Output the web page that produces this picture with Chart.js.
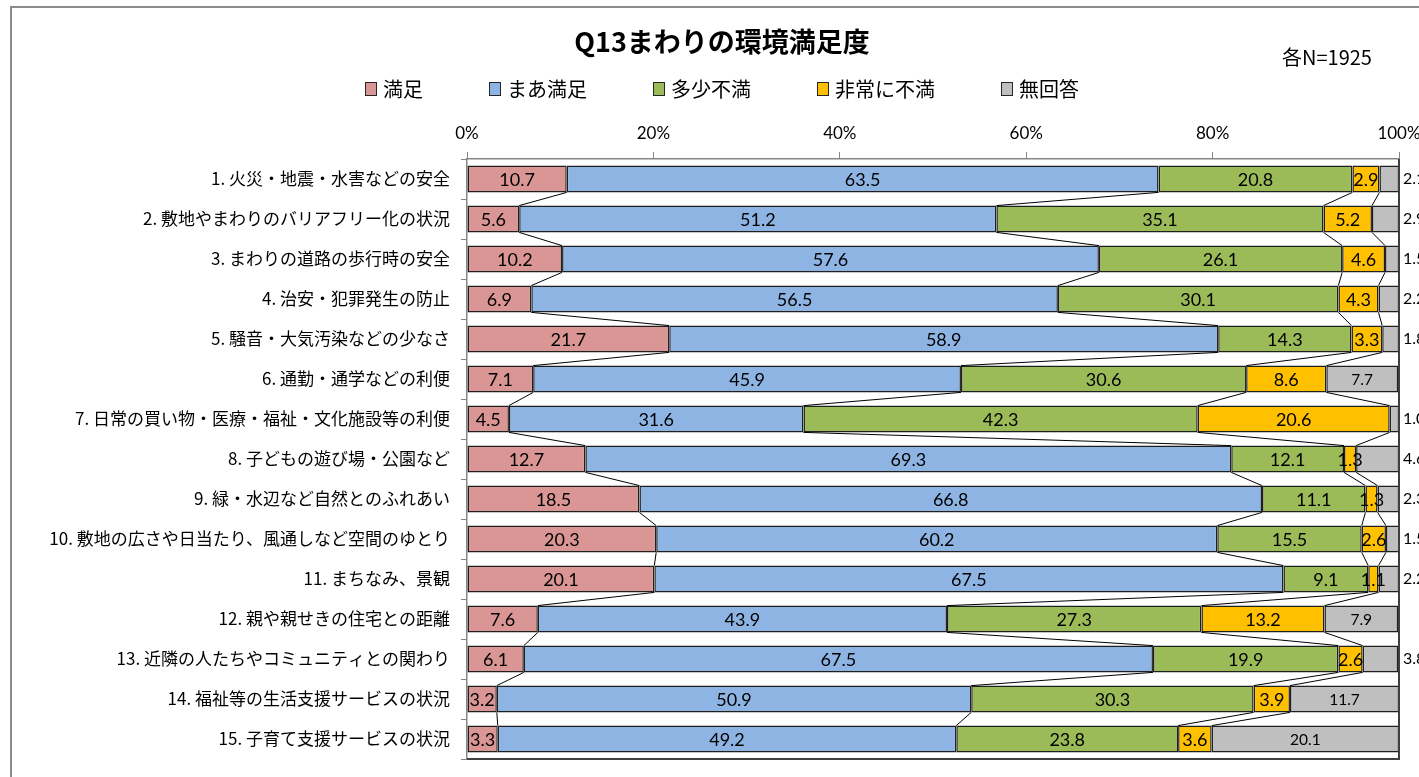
<!DOCTYPE html>
<html lang="ja">
<head>
<meta charset="utf-8">
<title>Q13まわりの環境満足度</title>
<script src="https://cdn.jsdelivr.net/npm/chart.js@4.4.1/dist/chart.umd.min.js"></script>
<style>
  html, body { margin: 0; padding: 0; background: #fff; }
  #graph { display: block; }
</style>
</head>
<body>
<canvas id="graph" width="1419" height="777"></canvas>
<script>
const chartTitle = "Q13まわりの環境満足度";
const sampleNote = "各N=1925";

const categories = [
    "1. 火災・地震・水害などの安全",
    "2. 敷地やまわりのバリアフリー化の状況",
    "3. まわりの道路の歩行時の安全",
    "4. 治安・犯罪発生の防止",
    "5. 騒音・大気汚染などの少なさ",
    "6. 通勤・通学などの利便",
    "7. 日常の買い物・医療・福祉・文化施設等の利便",
    "8. 子どもの遊び場・公園など",
    "9. 緑・水辺など自然とのふれあい",
    "10. 敷地の広さや日当たり、風通しなど空間のゆとり",
    "11. まちなみ、景観",
    "12. 親や親せきの住宅との距離",
    "13. 近隣の人たちやコミュニティとの関わり",
    "14. 福祉等の生活支援サービスの状況",
    "15. 子育て支援サービスの状況"
];

const seriesNames = ["満足", "まあ満足", "多少不満", "非常に不満", "無回答"];
const seriesColors = ["#D99694", "#8EB4E3", "#9BBB59", "#FFC000", "#BFBFBF"];

const satisfied     = [10.7, 5.6, 10.2, 6.9, 21.7, 7.1, 4.5, 12.7, 18.5, 20.3, 20.1, 7.6, 6.1, 3.2, 3.3];
const fairly        = [63.5, 51.2, 57.6, 56.5, 58.9, 45.9, 31.6, 69.3, 66.8, 60.2, 67.5, 43.9, 67.5, 50.9, 49.2];
const somewhatUnsat = [20.8, 35.1, 26.1, 30.1, 14.3, 30.6, 42.3, 12.1, 11.1, 15.5, 9.1, 27.3, 19.9, 30.3, 23.8];
const veryUnsat     = [2.9, 5.2, 4.6, 4.3, 3.3, 8.6, 20.6, 1.3, 1.3, 2.6, 1.1, 13.2, 2.6, 3.9, 3.6];
const noAnswer      = [2.1, 2.9, 1.5, 2.2, 1.8, 7.7, 1.0, 4.6, 2.3, 1.5, 2.2, 7.9, 3.8, 11.7, 20.1];

const xTicks = [0, 20, 40, 60, 80, 100];

const jpFont = '"Noto Sans CJK JP", "Noto Sans", sans-serif';
const numFont = 'Lato, Carlito, "Liberation Sans", sans-serif';

// frame, title, N and legend
const headerPlugin = {
    id: 'header',
    beforeDraw(chart) {
        const c = chart.ctx;
        c.save();
        c.fillStyle = '#fff';
        c.fillRect(0, 0, chart.width, chart.height);
        c.strokeStyle = '#8c8c8c';
        c.lineWidth = 2;
        c.beginPath();
        c.moveTo(11, chart.height + 2);
        c.lineTo(11, 7);
        c.lineTo(chart.width + 2, 7);
        c.stroke();
        c.restore();
    },
    afterDraw(chart) {
        const c = chart.ctx;
        c.save();
        c.fillStyle = '#000';
        c.textBaseline = 'middle';
        c.textAlign = 'center';
        c.font = 'bold 27px ' + jpFont;
        c.fillText(chartTitle, 722, 42);

        c.textAlign = 'left';
        c.font = '20px ' + jpFont;
        c.fillText(sampleNote, 1282, 57);

        // legend
        c.font = '20px ' + jpFont;
        const boxW = 12, boxH = 14, gap = 6, spacing = 66;
        let total = 0;
        seriesNames.forEach((n, i) => {
            total += boxW + gap + c.measureText(n).width;
            if (i < seriesNames.length - 1) total += spacing;
        });
        let x = 722 - total / 2;
        const y = 89;
        seriesNames.forEach((n, i) => {
            c.fillStyle = seriesColors[i];
            c.fillRect(x, y - boxH / 2, boxW, boxH);
            c.strokeStyle = '#262626';
            c.lineWidth = 1;
            c.strokeRect(x + 0.5, y - boxH / 2 + 0.5, boxW - 1, boxH - 1);
            c.fillStyle = '#000';
            c.fillText(n, x + boxW + gap, y);
            x += boxW + gap + c.measureText(n).width + spacing;
        });
        c.restore();
    }
};

// series lines between bars, plot border, value labels
const barExtras = {
    id: 'barExtras',
    afterDatasetsDraw(chart) {
        const c = chart.ctx;
        const area = chart.chartArea;
        c.save();

        c.strokeStyle = '#000';
        c.lineWidth = 1;
        for (let d = 0; d < 4; d++) {
            const bars = chart.getDatasetMeta(d).data;
            for (let i = 0; i < bars.length - 1; i++) {
                const a = bars[i], b = bars[i + 1];
                c.beginPath();
                c.moveTo(a.x, a.y + a.height / 2);
                c.lineTo(b.x, b.y - b.height / 2);
                c.stroke();
            }
        }

        c.strokeStyle = '#404040';
        c.lineWidth = 2;
        c.beginPath();
        c.moveTo(area.left, area.bottom);
        c.lineTo(area.right, area.bottom);
        c.lineTo(area.right, area.top);
        c.stroke();

        c.fillStyle = '#000';
        c.textBaseline = 'middle';
        chart.data.datasets.forEach((ds, d) => {
            const bars = chart.getDatasetMeta(d).data;
            bars.forEach((bar, i) => {
                const v = ds.data[i];
                const txt = v.toFixed(1);
                if (d === 4) {
                    c.font = '15.5px ' + numFont;
                    if (v < 5) {
                        c.font = '16px ' + numFont;
                        c.textAlign = 'left';
                        c.fillText(txt, area.right + 4, bar.y);
                        return;
                    }
                } else {
                    c.font = '18px ' + numFont;
                }
                c.textAlign = 'center';
                c.fillText(txt, (bar.x + bar.base) / 2, bar.y + 1);
            });
        });
        c.restore();
    }
};

const seriesData = [satisfied, fairly, somewhatUnsat, veryUnsat, noAnswer];

function startChart()
{
    const ctx = document.getElementById('graph');

    const dataChart = {
        labels: categories,
        datasets: seriesNames.map((name, i) => ({
            label: name,
            data: seriesData[i],
            backgroundColor: seriesColors[i],
            borderColor: '#1f1f1f',
            borderWidth: 1.5,
            borderSkipped: false,
            categoryPercentage: 1.0,
            barPercentage: 0.67
        }))
    };

    new Chart(ctx, {
        type: 'bar',
        data: dataChart,
        plugins: [headerPlugin, barExtras],
        options: {
            indexAxis: 'y',
            responsive: false,
            animation: false,
            devicePixelRatio: 1,
            layout: {
                padding: { left: 0, top: 0, right: 20, bottom: 18 }
            },
            plugins: {
                legend: { display: false },
                title: { display: false },
                tooltip: { enabled: false }
            },
            scales: {
                x: {
                    position: 'top',
                    stacked: true,
                    min: 0,
                    max: 100,
                    afterBuildTicks: scale => {
                        scale.ticks = xTicks.map(v => ({ value: v }));
                    },
                    afterFit: scale => {
                        scale.height = 159;
                        scale.paddingLeft = 0;
                        scale.paddingRight = 0;
                    },
                    grid: {
                        drawOnChartArea: false,
                        drawTicks: true,
                        tickLength: 7,
                        color: '#868686'
                    },
                    border: { color: '#868686', width: 1.5 },
                    ticks: {
                        padding: 8,
                        color: '#000',
                        font: { family: numFont, size: 17 },
                        callback: v => v + '%'
                    }
                },
                y: {
                    stacked: true,
                    afterFit: scale => {
                        scale.width = 467;
                        scale.paddingTop = 0;
                        scale.paddingBottom = 0;
                    },
                    grid: {
                        drawOnChartArea: false,
                        drawTicks: true,
                        tickLength: 6,
                        color: '#868686'
                    },
                    border: { color: '#868686', width: 1.5 },
                    ticks: {
                        padding: 11,
                        color: '#000',
                        autoSkip: false,
                        font: { family: jpFont, size: 17 }
                    }
                }
            }
        }
    });
}

Promise.all([
    document.fonts.load('17px "Noto Sans CJK JP"'),
    document.fonts.load('bold 27px "Noto Sans CJK JP"'),
    document.fonts.load('18px Lato')
]).then(startChart, startChart);
</script>
</body>
</html>
